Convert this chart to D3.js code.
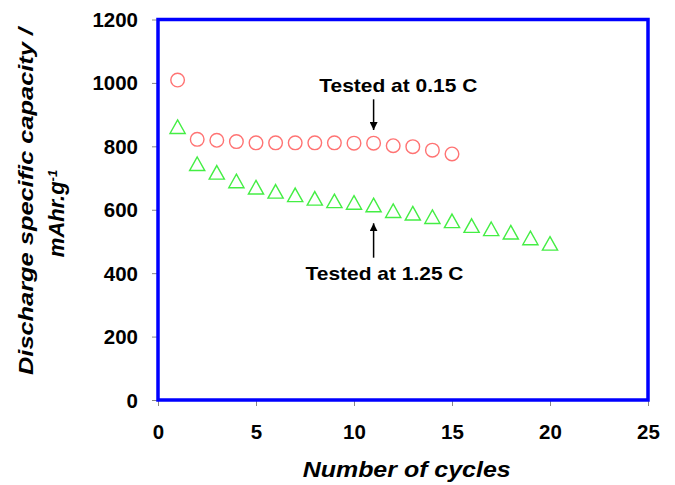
<!DOCTYPE html>
<html>
<head>
<meta charset="utf-8">
<script src="https://cdn.jsdelivr.net/npm/d3@7"></script>
<style>
  html, body { margin: 0; padding: 0; background: #fff; }
  svg { display: block; font-family: "Liberation Sans", Arial, sans-serif; }
</style>
</head>
<body>
<svg id="chart" width="675" height="485"></svg>
<script>
// ---- data ----
const cycles015 = [1,2,3,4,5,6,7,8,9,10,11,12,13,14,15];
const capacity015 = [1009,822,819,815,811,811,811,811,811,810,810,802,799,788,776];
const cycles125 = [1,2,3,4,5,6,7,8,9,10,11,12,13,14,15,16,17,18,19,20];
const capacity125 = [862,745,718,691,671,658,647,636,628,623,615,597,589,578,565,550,540,529,511,494];
const xTicks = [0,5,10,15,20,25];
const yTicks = [0,200,400,600,800,1000,1200];
const annotations = [
  {label: "Tested at 0.15 C", cycle: 11, side: "above"},
  {label: "Tested at 1.25 C", cycle: 11, side: "below"}
];

// ---- layout ----
const svg = d3.select("#chart");
const x = d3.scaleLinear().domain([0, 25]).range([158, 648]);
const y = d3.scaleLinear().domain([0, 1200]).range([400, 19.5]);

// axes (ticks outside, gray)
const yAxis = d3.axisLeft(y).tickValues(yTicks).tickSize(6).tickPadding(14).tickFormat(d3.format("d"));
const xAxis = d3.axisBottom(x).tickValues(xTicks).tickSize(6).tickPadding(19).tickFormat(d3.format("d"));

const gy = svg.append("g").attr("transform", `translate(${x(0)},0)`).call(yAxis);
const gx = svg.append("g").attr("transform", `translate(0,${y(0)})`).call(xAxis);
[gy, gx].forEach(g => {
  g.select(".domain").remove();
  g.selectAll(".tick line").attr("stroke", "#888").attr("stroke-width", 1);
  g.selectAll(".tick text")
    .attr("fill", "#000")
    .attr("textLength", d => String(d).length * 11.4)
    .attr("lengthAdjust", "spacingAndGlyphs")
    .style("font-size", "20px")
    .style("font-weight", "bold")
    .style("font-family", "'Liberation Sans', Arial, sans-serif");
});
gy.selectAll(".tick text").attr("dy", "0.35em");
gx.selectAll(".tick text").attr("dy", "0.71em");

// plot frame
svg.append("rect")
  .attr("x", x(0)).attr("y", y(1200))
  .attr("width", x(25) - x(0)).attr("height", y(0) - y(1200))
  .attr("fill", "none").attr("stroke", "#0000ff").attr("stroke-width", 3.5);

// series: circles
svg.append("g").selectAll("circle")
  .data(cycles015.map((c, i) => ({c, v: capacity015[i]})))
  .join("circle")
  .attr("cx", d => x(d.c)).attr("cy", d => y(d.v)).attr("r", 6.8)
  .attr("fill", "none").attr("stroke", "#ff7373").attr("stroke-width", 1.4);

// series: triangles
const tri = "M0,-6.8L7.6,6.8L-7.6,6.8Z";
svg.append("g").selectAll("path")
  .data(cycles125.map((c, i) => ({c, v: capacity125[i]})))
  .join("path")
  .attr("d", tri)
  .attr("transform", d => `translate(${x(d.c)},${y(d.v)})`)
  .attr("fill", "none").attr("stroke", "#44ee44").attr("stroke-width", 1.4);

// annotations
const defs = svg.append("defs");
defs.append("marker").attr("id", "ah")
  .attr("viewBox", "0 0 10 10").attr("refX", 10).attr("refY", 5)
  .attr("markerWidth", 8).attr("markerHeight", 8).attr("markerUnits", "userSpaceOnUse")
  .attr("orient", "auto")
  .append("path").attr("d", "M0,0L10,5L0,10Z").attr("fill", "#000");

annotations.forEach((a) => {
  const ax = x(a.cycle);
  const tail = a.side === "above" ? 99.3 : 257.7;
  const tip = a.side === "above" ? 130 : 223.3;
  svg.append("line")
    .attr("x1", ax).attr("x2", ax).attr("y1", tail).attr("y2", tip)
    .attr("stroke", "#000").attr("stroke-width", 1.5)
    .attr("marker-end", "url(#ah)");
  const tx = a.side === "above" ? 398.3 : 384.5;
  const ty = a.side === "above" ? 91.7 : 280;
  svg.append("text")
    .attr("x", tx).attr("y", ty)
    .attr("text-anchor", "middle")
    .attr("textLength", 158).attr("lengthAdjust", "spacingAndGlyphs")
    .style("font-size", "19px").style("font-weight", "bold")
    .text(a.label);
});

// axis titles
svg.append("text")
  .attr("x", 406.7).attr("y", 476.7)
  .attr("text-anchor", "middle")
  .attr("textLength", 208).attr("lengthAdjust", "spacingAndGlyphs")
  .style("font-size", "22px").style("font-weight", "bold").style("font-style", "italic")
  .text("Number of cycles");

svg.append("text")
  .attr("transform", "translate(32.5,201.5) rotate(-90)")
  .attr("text-anchor", "middle")
  .attr("textLength", 347).attr("lengthAdjust", "spacingAndGlyphs")
  .style("font-size", "20px").style("font-weight", "bold").style("font-style", "italic")
  .text("Discharge specific capacity /");

const t2 = svg.append("text")
  .attr("transform", "translate(64,213.5) rotate(-90)")
  .attr("text-anchor", "middle")
  .style("font-size", "22px").style("font-weight", "bold").style("font-style", "italic");
t2.append("tspan").text("mAhr.g");
t2.append("tspan").attr("dy", "-0.55em").style("font-size", "13px").text("-1");
</script>
</body>
</html>
